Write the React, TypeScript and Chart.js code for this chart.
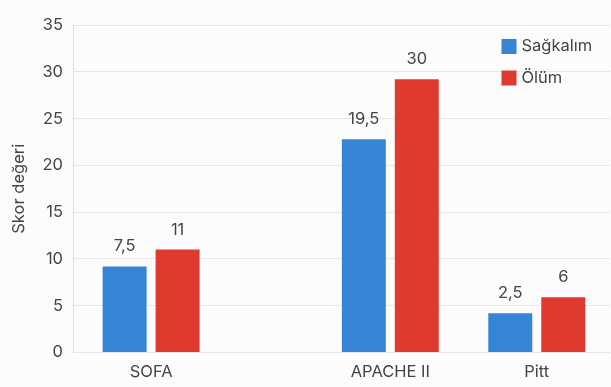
import React, { useEffect, useRef } from 'react';
import { Chart, registerables } from 'chart.js';

Chart.register(...registerables);

const categories = ['SOFA', 'APACHE II', 'Pitt'];
const categorySlots = [1.6, 6.5, 9.5];
const seriesNames = ['Sağkalım', 'Ölüm'];
const survivalValues = [9.2, 22.8, 4.2];
const deathValues = [11.0, 29.2, 5.9];
const survivalLabels = ['7,5', '19,5', '2,5'];
const deathLabels = ['11', '30', '6'];
const yTickValues = [0, 5, 10, 15, 20, 25, 30, 35];

const FONT = 'Inter, "DejaVu Sans", sans-serif';
const TEXT = '#444444';
const BLUE = '#3584d6';
const RED = '#df3a2f';

const valueLabelPlugin = {
  id: 'valueLabels',
  afterDatasetsDraw(chart: any) {
    const ctx = chart.ctx;
    ctx.save();
    ctx.font = `16.5px ${FONT}`;
    ctx.fillStyle = TEXT;
    ctx.textAlign = 'center';
    ctx.textBaseline = 'middle';
    chart.data.datasets.forEach((ds: any, di: number) => {
      const meta = chart.getDatasetMeta(di);
      meta.data.forEach((bar: any, i: number) => {
        ctx.fillText(ds.valueLabels[i], bar.x, bar.y - 20);
      });
    });
    ctx.restore();
  },
};

const cornerLegendPlugin = {
  id: 'cornerLegend',
  afterDraw(chart: any) {
    const ctx = chart.ctx;
    const { right, top } = chart.chartArea;
    const x0 = right - 108.5;
    const y0 = top + 14;
    ctx.save();
    ctx.font = `16.5px ${FONT}`;
    ctx.textAlign = 'left';
    ctx.textBaseline = 'middle';
    chart.data.datasets.forEach((ds: any, i: number) => {
      const y = y0 + i * 31.5;
      ctx.fillStyle = ds.backgroundColor;
      ctx.fillRect(x0, y, 15, 15);
      ctx.fillStyle = TEXT;
      ctx.fillText(ds.label, x0 + 20, y + 7.5);
    });
    ctx.restore();
  },
};

export default function App() {
  const canvasRef = useRef<HTMLCanvasElement | null>(null);

  useEffect(() => {
    if (!canvasRef.current) return;
    const chart = new Chart(canvasRef.current, {
      type: 'bar',
      data: {
        datasets: [
          {
            label: seriesNames[0],
            data: survivalValues.map((v, i) => ({ x: categorySlots[i], y: v })),
            backgroundColor: BLUE,
            valueLabels: survivalLabels,
          } as any,
          {
            label: seriesNames[1],
            data: deathValues.map((v, i) => ({ x: categorySlots[i], y: v })),
            backgroundColor: RED,
            valueLabels: deathLabels,
          } as any,
        ],
      },
      options: {
        animation: false,
        responsive: true,
        maintainAspectRatio: false,
        layout: { padding: { top: 25, right: 1, left: 0, bottom: 0 } },
        categoryPercentage: 0.7235,
        barPercentage: 0.83,
        plugins: {
          legend: { display: false },
          tooltip: { enabled: false },
        },
        scales: {
          x: {
            type: 'linear',
            min: 0,
            max: 11,
            offset: false,
            grid: { display: false, drawTicks: false },
            border: { display: false },
            afterBuildTicks: (scale: any) => {
              scale.ticks = categorySlots.map((v) => ({ value: v }));
            },
            afterFit: (scale: any) => {
              scale.height = 34.5;
            },
            ticks: {
              autoSkip: false,
              maxRotation: 0,
              padding: 10,
              color: TEXT,
              font: { family: FONT, size: 16.5 },
              callback: (_v: any, idx: number) => categories[idx],
            },
          },
          y: {
            min: 0,
            max: 35,
            afterBuildTicks: (scale: any) => {
              scale.ticks = yTickValues.map((v) => ({ value: v }));
            },
            afterFit: (scale: any) => {
              scale.width = 73;
            },
            grid: { color: '#e6e6e6', drawTicks: false },
            border: { display: true, color: '#dedede' },
            ticks: {
              padding: 10,
              color: TEXT,
              font: { family: FONT, size: 16.5 },
            },
            title: {
              display: true,
              text: 'Skor değeri',
              color: TEXT,
              font: { family: FONT, size: 16.5 },
              padding: { top: 9, bottom: 4 },
            },
          },
        },
      } as any,
      plugins: [valueLabelPlugin, cornerLegendPlugin],
    });
    return () => chart.destroy();
  }, []);

  return (
    <div
      style={{
        position: 'fixed',
        left: 0,
        top: 0,
        width: 611,
        height: 387,
        background: '#fcfcfc',
      }}
    >
      <canvas ref={canvasRef} />
    </div>
  );
}
